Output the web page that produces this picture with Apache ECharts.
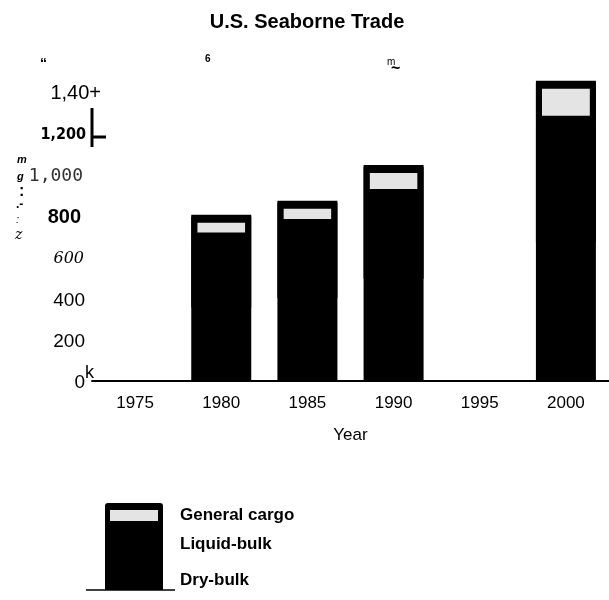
<!DOCTYPE html>
<html>
<head>
    <meta charset="utf-8">
    <script src="https://cdn.jsdelivr.net/npm/echarts@6/dist/echarts.min.js"></script>
    <style>
        *{
            margin:0;
            padding:0;
        }
        body{ background:#fff; }
    </style>
</head>
<body>
    <div id="main" style="width:609px;height:600px;"></div>
    <script type="text/javascript">

    // data (million tons)
    var years = ['1975', '1980', '1985', '1990', '1995', '2000'];
    var dryBulk = [null, 365, 410, 505, null, 680];
    var liquidBulk = [null, 325, 345, 395, null, 575];
    var generalCargo = [null, 115, 117, 145, null, 198];

    var yTicks = [0, 200, 400, 600, 800, 1000, 1200, 1400];
    var yLabels = ['0', '200', '400', '600', '800', '1,000', '1,200', '1,40+'];
    var yLabelStyle = ['plain', 'plain', 'plain', 'ital', 'bold', 'mono', 'cond', 'plus'];

    var seriesNames = ['Dry-bulk', 'Liquid-bulk', 'General cargo'];

    var myChart = echarts.init(document.getElementById('main'));

    function barSeries(name, values, fill, cover) {
        var style = {
            color: fill,
            borderColor: '#000',
            borderWidth: 6
        };
        // black shadow just below hides the seam with the segment underneath
        if (cover) {
            style.shadowColor = '#000';
            style.shadowBlur = 0;
            style.shadowOffsetY = 2;
        }
        return {
            name: name,
            type: 'bar',
            stack: 'trade',
            barWidth: 60,
            clip: false,
            data: values,
            itemStyle: style
        };
    }

    var helv = 'Liberation Sans, Arial, sans-serif';

    myChart.setOption({
        animation: false,
        title: {
            text: 'U.S. Seaborne Trade',
            left: 302,
            textAlign: 'center',
            top: 7,
            textStyle: { fontFamily: helv, fontSize: 20, fontWeight: 'bold', color: '#000' }
        },
        grid: {
            left: 92,
            right: -6,
            top: 71,
            bottom: 219
        },
        xAxis: {
            type: 'category',
            data: years,
            name: 'Year',
            nameLocation: 'middle',
            nameGap: 46,
            nameTextStyle: { fontFamily: helv, fontSize: 17, color: '#000' },
            axisLine: { lineStyle: { color: '#000', width: 2 } },
            axisTick: { show: false },
            axisLabel: { fontFamily: helv, fontSize: 17, color: '#000', margin: 14 }
        },
        yAxis: {
            type: 'value',
            min: 0,
            max: 1500,
            interval: 100,
            splitLine: { show: false },
            axisLine: { show: false },
            axisTick: { show: false },
            axisLabel: {
                margin: -9,
                color: '#000',
                formatter: function (v) {
                    var i = yTicks.indexOf(v);
                    if (i < 0) return '';
                    return '{' + yLabelStyle[i] + '|' + yLabels[i] + '}';
                },
                rich: {
                    plain: { fontFamily: helv, fontSize: 19, padding: [4, 16, 0, 0] },
                    ital: { fontFamily: 'DejaVu Serif, serif', fontStyle: 'italic', fontSize: 16, padding: [4, 17, 0, 0] },
                    bold: { fontFamily: helv, fontWeight: 'bold', fontSize: 20, padding: [4, 20, 0, 0] },
                    mono: { fontFamily: 'DejaVu Sans Mono, monospace', fontSize: 18, color: '#333', padding: [4, 18, 0, 0] },
                    cond: { fontFamily: 'DejaVu Sans Condensed, sans-serif', fontWeight: 'bold', fontSize: 16, letterSpacing: -1, padding: [4, 15, 0, 0] },
                    plus: { fontFamily: helv, fontSize: 20, letterSpacing: 1.5, padding: [4, 0, 0, 0] }
                }
            }
        },
        series: [
            barSeries(seriesNames[0], dryBulk, '#000', false),
            barSeries(seriesNames[1], liquidBulk, '#000', true),
            barSeries(seriesNames[2], generalCargo, '#e4e4e4', true)
        ],
        graphic: [
            // stray scan marks
            { type: 'text', left: 40, top: 57, style: { text: '\u201c', font: 'bold 14px ' + helv, fill: '#000' } },
            { type: 'text', left: 205, top: 54, style: { text: '6', font: 'bold 10px ' + helv, fill: '#000' } },
            { type: 'text', left: 387, top: 57, style: { text: 'm', font: '10px ' + helv, fill: '#000' } },
            { type: 'text', left: 391, top: 61, style: { text: '~', font: 'bold 16px ' + helv, fill: '#000' } },
            { type: 'text', left: 17, top: 154, style: { text: 'm', font: 'italic bold 11px ' + helv, fill: '#000' } },
            { type: 'text', left: 17, top: 171, style: { text: 'g', font: 'italic bold 11px ' + helv, fill: '#000' } },
            { type: 'text', left: 19, top: 184, style: { text: ':', font: 'bold 16px ' + helv, fill: '#000' } },
            { type: 'text', left: 16, top: 199, style: { text: '.-', font: 'bold 12px ' + helv, fill: '#000' } },
            { type: 'text', left: 16, top: 214, style: { text: ':', font: 'italic 11px ' + helv, fill: '#000' } },
            { type: 'text', left: 15, top: 228, style: { text: 'z', font: 'italic 14px DejaVu Serif, serif', fill: '#000' } },
            { type: 'text', left: 85, top: 364, style: { text: 'k', font: '18px ' + helv, fill: '#000' } },
            { type: 'line', shape: { x1: 92, y1: 108, x2: 92, y2: 147 }, style: { stroke: '#000', lineWidth: 3 } },
            { type: 'line', shape: { x1: 92, y1: 137, x2: 106, y2: 137 }, style: { stroke: '#000', lineWidth: 3 } },
            // legend key
            { type: 'rect', shape: { x: 105, y: 503, width: 58, height: 87, r: [3, 3, 0, 0] }, style: { fill: '#000' } },
            { type: 'rect', shape: { x: 110, y: 510, width: 48, height: 11 }, style: { fill: '#e4e4e4' } },
            { type: 'line', shape: { x1: 86, y1: 590, x2: 175, y2: 590 }, style: { stroke: '#000', lineWidth: 1.5 } },
            { type: 'text', left: 180, top: 507, style: { text: seriesNames[2], font: 'bold 17px ' + helv, fill: '#000' } },
            { type: 'text', left: 180, top: 536, style: { text: seriesNames[1], font: 'bold 17px ' + helv, fill: '#000' } },
            { type: 'text', left: 180, top: 572, style: { text: seriesNames[0], font: 'bold 17px ' + helv, fill: '#000' } }
        ]
    });
</script>
</body>
</html>
